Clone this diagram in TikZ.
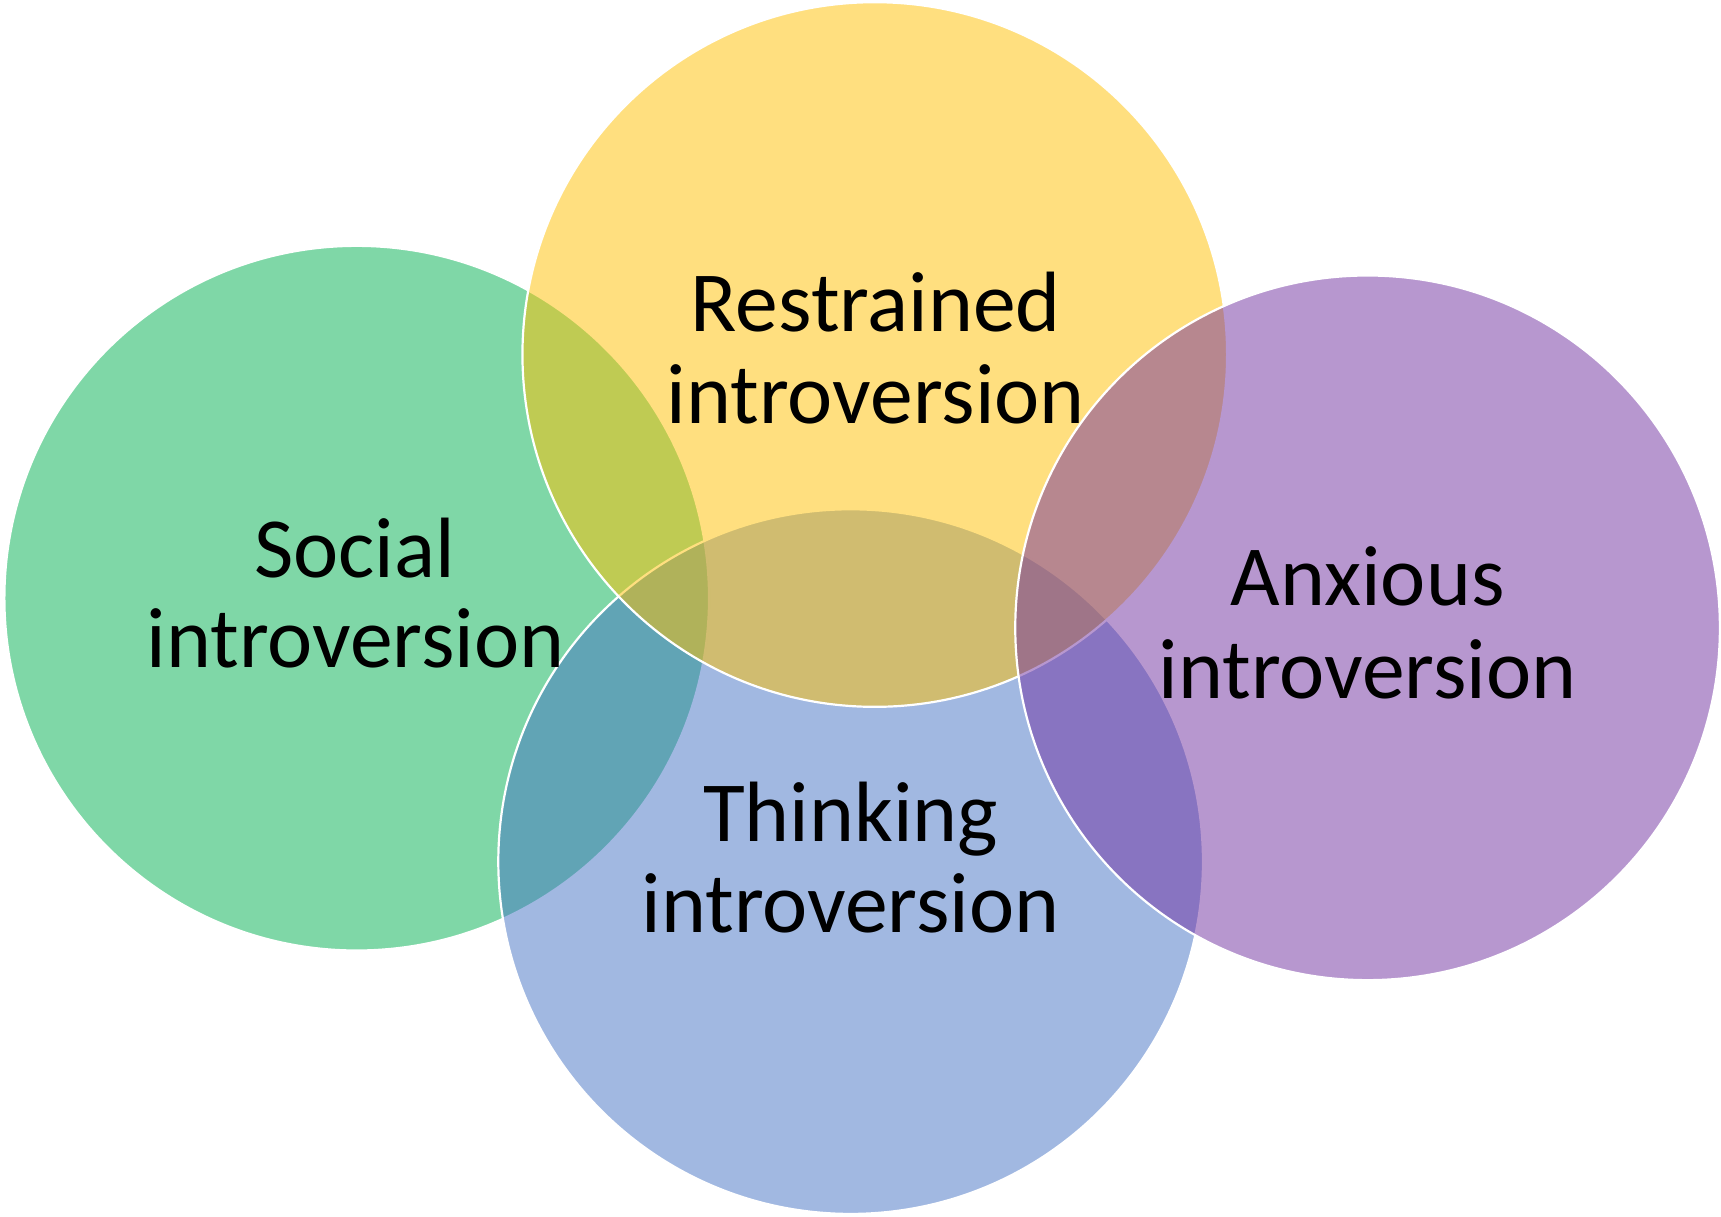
\documentclass[tikz,border=0pt]{standalone}
\usepackage{fontspec}
\setmainfont{Carlito}
\definecolor{vgreen}{RGB}{0,176,80}
\definecolor{vblue}{RGB}{68,114,196}
\definecolor{vyellow}{RGB}{255,192,0}
\definecolor{vpurple}{RGB}{112,48,160}
\begin{document}
\begin{tikzpicture}[x=1pt,y=-1pt,
  venn/.style={fill opacity=0.5, draw=white, line width=2pt},
  lbl/.style={anchor=base, inner sep=0pt, text=black, font=\fontsize{78}{84}\selectfont}]
\useasboundingbox (0,0) rectangle (1568,1108);
\filldraw[venn, fill=vgreen] (325,545) circle[radius=321];
\filldraw[venn, fill=vblue] (775,785) circle[radius=321];
\filldraw[venn, fill=vyellow] (797,323) circle[radius=321];
\filldraw[venn, fill=vpurple] (1246,572) circle[radius=321];
\node[lbl] (restrainedA) at (798,302) {Restrained};
\node[lbl] (restrainedB) at (798,386) {introversion};
\node[lbl] (socialA) at (323,526) {Social};
\node[lbl] (socialB) at (324,608) {introversion};
\node[lbl] (anxiousA) at (1246,552) {Anxious};
\node[lbl] (anxiousB) at (1246,636) {introversion};
\node[lbl] (thinkingA) at (775,767) {Thinking};
\node[lbl] (thinkingB) at (775,850) {introversion};
\end{tikzpicture}
\end{document}
